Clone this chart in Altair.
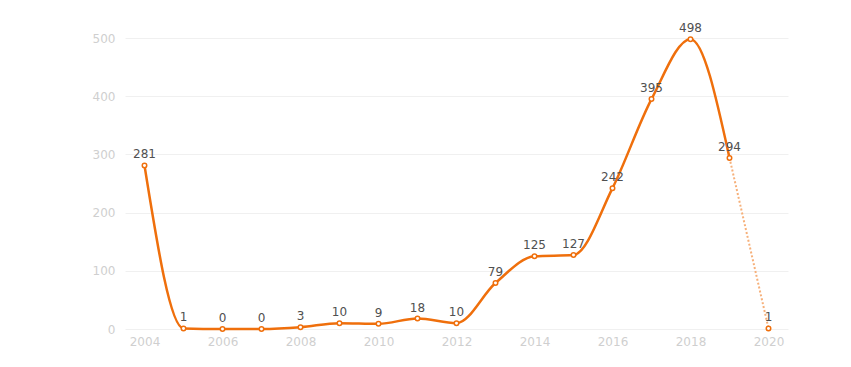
import altair as alt
import pandas as pd

years = list(range(2004, 2021))
values = [281, 1, 0, 0, 3, 10, 9, 18, 10, 79, 125, 127, 242, 395, 498, 294, 1]

df = pd.DataFrame({"year": years, "value": values})
solid = df[df.year <= 2019]
dotted = df[df.year >= 2019]

ORANGE = "#EF6F0C"
LIGHT = "#F6B07A"

x = alt.X("year:Q", scale=alt.Scale(domain=[2003.5, 2020.5], nice=False, zero=False),
          axis=alt.Axis(values=list(range(2004, 2021, 2)), format="d", title=None, grid=False,
                        domain=False, ticks=False, labelPadding=7, labelColor="#cfcfcf",
                        labelFont="DejaVu Sans", labelFontSize=12))
y = alt.Y("value:Q", scale=alt.Scale(domain=[0, 500], nice=False),
          axis=alt.Axis(values=[0, 100, 200, 300, 400, 500], title=None, grid=True,
                        gridColor="#f0f0f0", domain=False, ticks=False, labelPadding=10,
                        labelColor="#cfcfcf", labelFont="DejaVu Sans", labelFontSize=12))

dline = alt.Chart(dotted).mark_line(interpolate="monotone", color=LIGHT, strokeWidth=2,
                                    strokeDash=[2, 2]).encode(x=x, y=y)
sline = alt.Chart(solid).mark_line(interpolate="monotone", color=ORANGE,
                                   strokeWidth=2.5).encode(x=x, y=y)
pts = alt.Chart(df).mark_point(filled=True, fill="white", stroke=ORANGE, strokeWidth=1.5,
                               size=20, opacity=1).encode(x=x, y=y)
labels = alt.Chart(df).mark_text(dy=-11, color="#505050", font="DejaVu Sans",
                                 fontSize=12).encode(x=x, y=y, text="value:Q")

chart = (dline + sline + pts + labels).properties(
    width=663, height=291,
    background="white",
    autosize=alt.AutoSizeParams(type="none"),
    padding={"left": 117, "top": 30, "right": 55, "bottom": 30},
).configure_view(stroke=None)

chart.save("out.html", embed_options={"renderer": "svg", "actions": False})
